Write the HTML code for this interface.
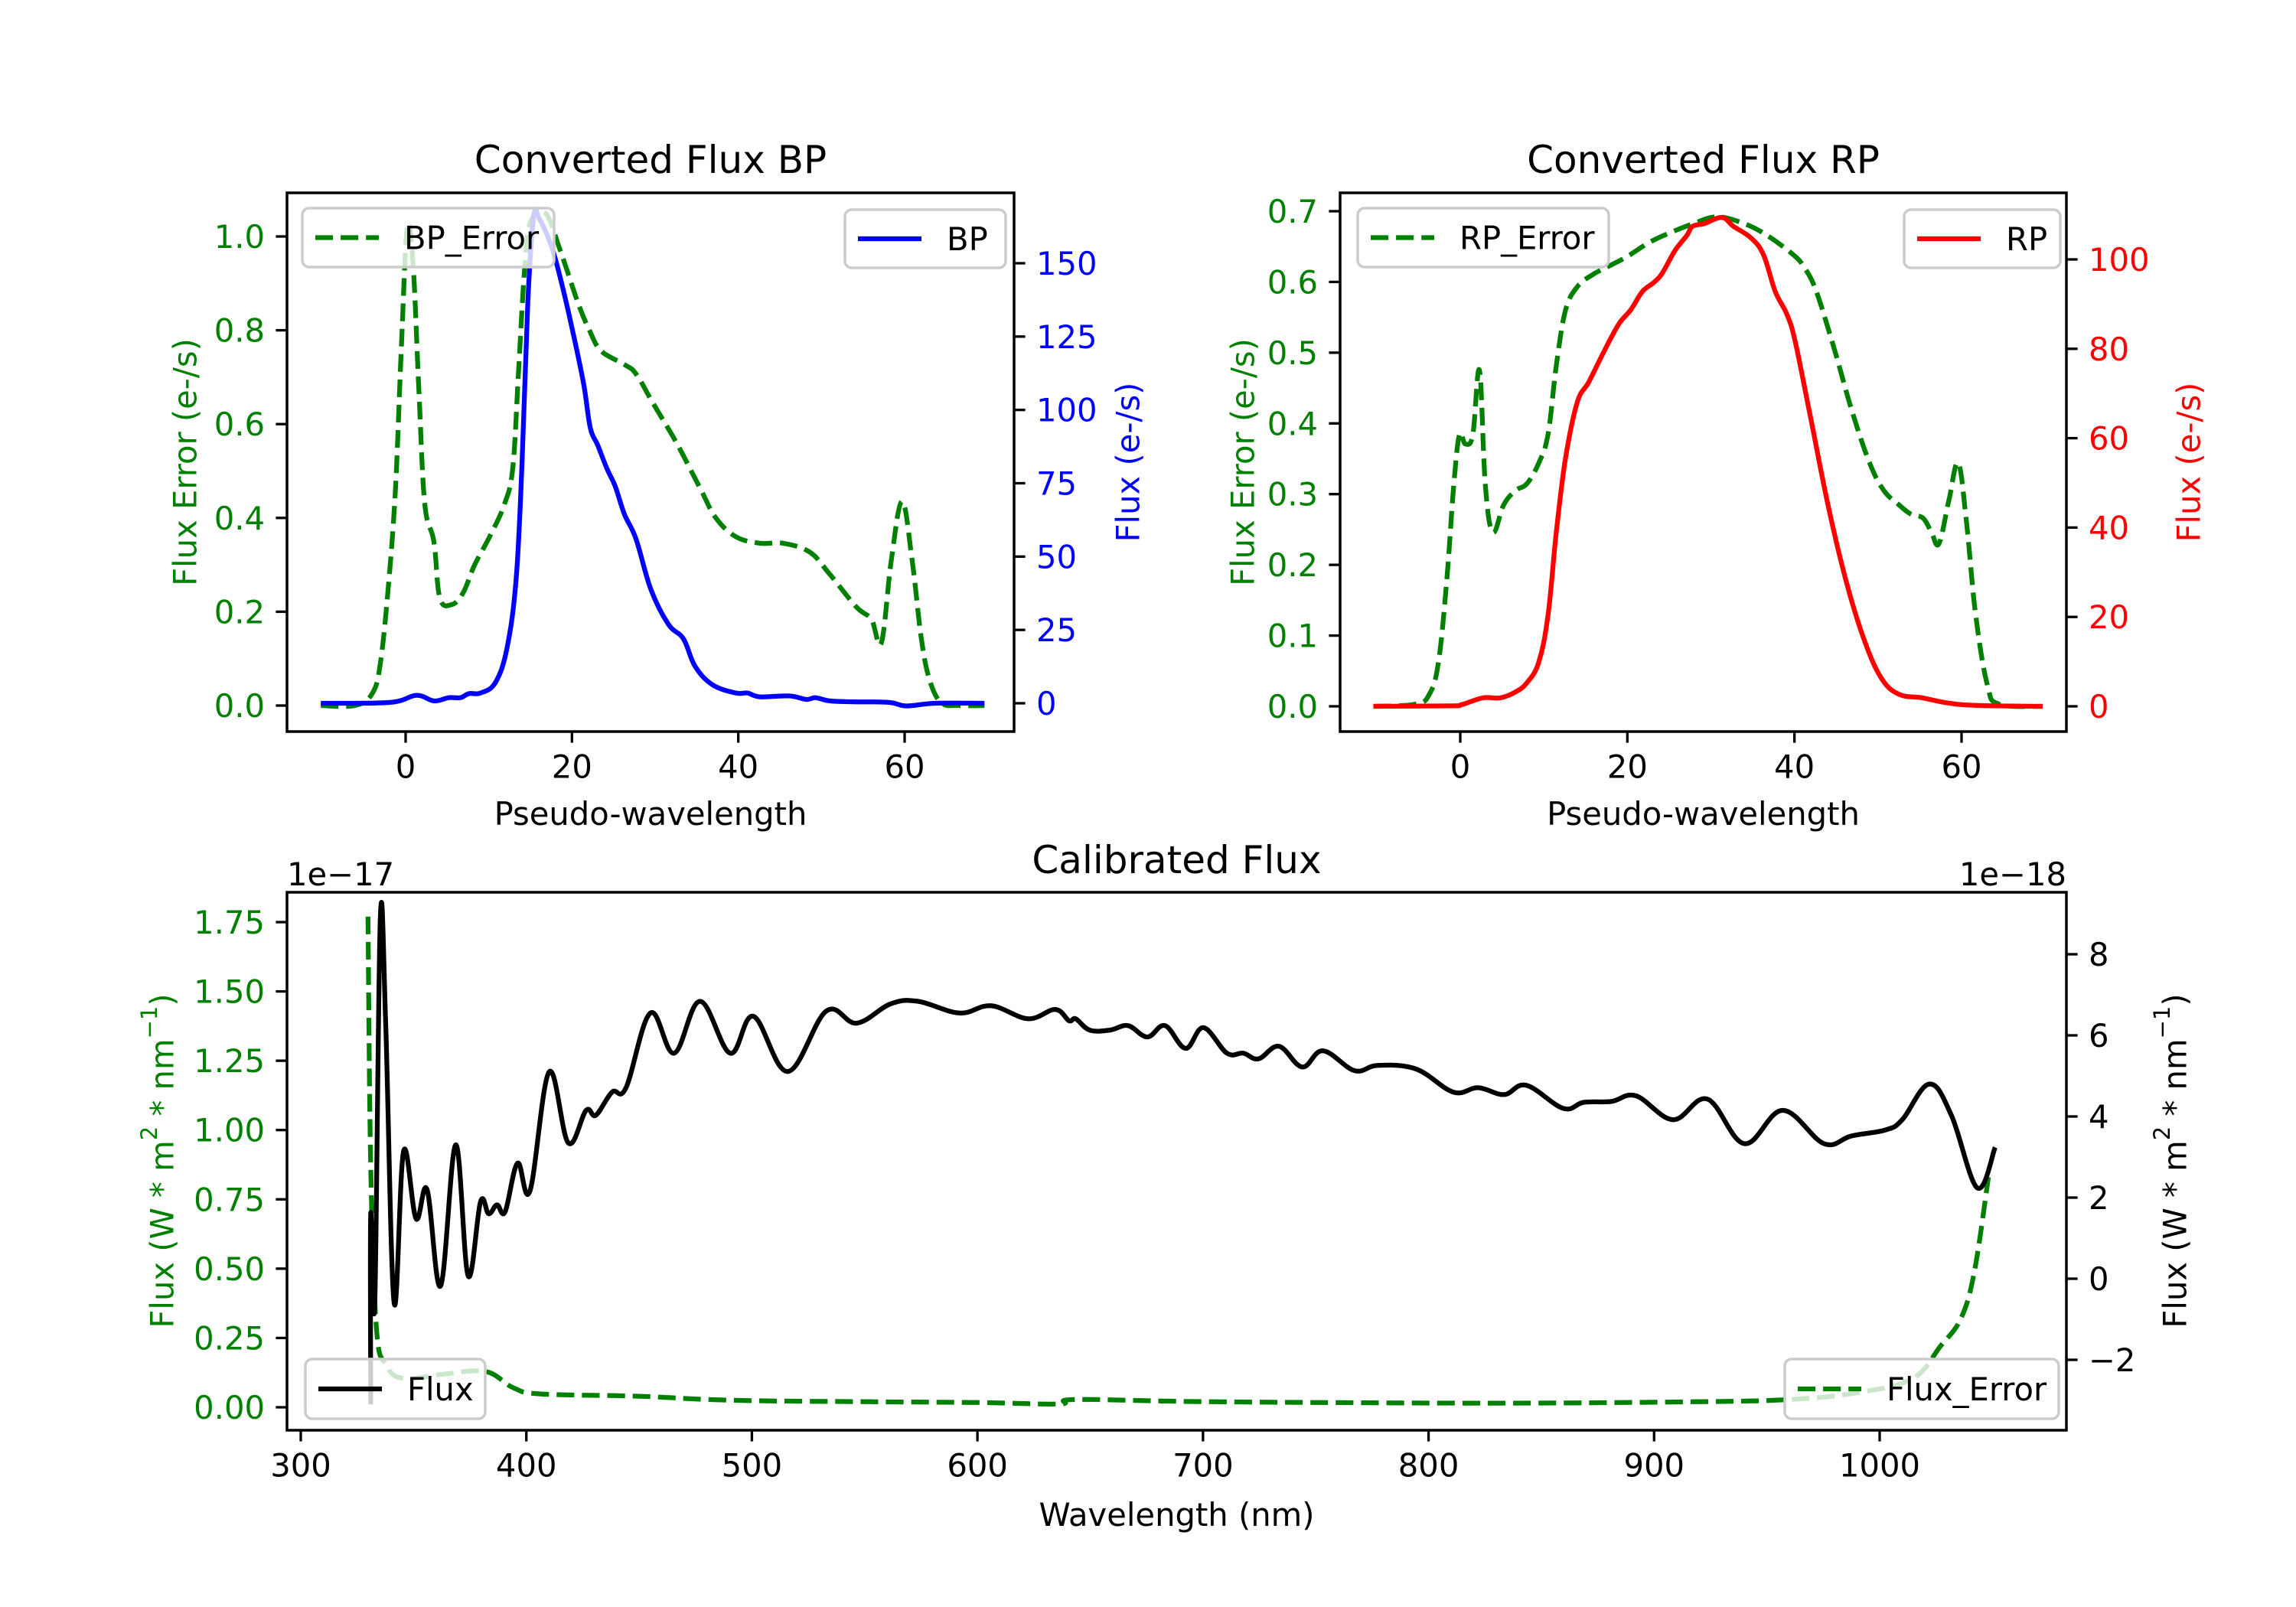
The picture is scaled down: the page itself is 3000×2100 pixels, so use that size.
<!DOCTYPE html>
<html><head><meta charset="utf-8"><style>
html,body{margin:0;padding:0;background:#fff}
svg{display:block;font-family:"DejaVu Sans","Liberation Sans",sans-serif}
</style></head><body>
<svg id="fig" xmlns="http://www.w3.org/2000/svg" width="3000" height="2100" viewBox="0 0 3000 2100">
<rect width="3000" height="2100" fill="#fff"/>
</svg>
<script>
// ---- BP panel data ----
const bpX = [-10.2,-1.9,1.3,3.4,5.2,6.6,7.6,9.0,10.8,12.2,13.3,14.0,14.7,15.4,16.1,17.5,18.6,20,21.4,22.2,23.1,24.2,25.2,26.3,27.7,29.5,31.6,33.4,34.8,36.9,39.7,41.1,42.6,46.1,48.2,49.3,51.0,53.8,58.1,60.2,63.7,69.6];
const bpFlux = [0,0.3,2.7,0.8,1.9,1.9,3.3,3.5,7.1,19,42.7,82,137,166,165,156,145,128,109,94,88,80,74,64.5,56,38.7,26.9,22,12.6,6.3,3.5,3.5,2.2,2.5,1.3,1.9,0.8,0.5,0.3,-0.9,0,0];
const bpErrX = [-10.2,-6.1,-4.0,-3.0,-2.0,-1.2,-0.5,0.2,0.9,1.6,2.3,3.4,4.1,5.5,6.9,8.3,10.1,11.9,12.9,13.6,14.3,15.0,16.8,18.6,20.7,22.1,23.5,26.3,27.7,29.8,32.6,35.5,37.3,39.7,42.6,45.4,48.6,51.0,54.2,56.0,57.2,58.4,59.7,60.9,62.0,63.0,64.4,66.5,69.6];
const bpErr = [0,0,0.026,0.095,0.27,0.47,0.77,1.02,0.94,0.67,0.43,0.35,0.23,0.215,0.24,0.30,0.36,0.43,0.51,0.72,0.93,1.03,1.05,0.97,0.86,0.80,0.756,0.727,0.707,0.643,0.559,0.46,0.40,0.36,0.346,0.346,0.327,0.28,0.21,0.184,0.134,0.31,0.435,0.31,0.144,0.055,0.006,0,0];
const bpLeftTicks = [0.0,0.2,0.4,0.6,0.8,1.0];
const bpRightTicks = [0,25,50,75,100,125,150];
const pseudoTicks = [0,20,40,60];
// ---- RP panel data ----
const rpX = [-10.4,-1.2,0.2,2.7,4.8,6.6,8.0,9.4,10.5,11.5,12.6,14.0,15.4,17.2,19.0,20.4,21.8,23.2,24.2,25.7,27.1,27.8,29.2,31.3,32.7,34.8,36.3,37.7,39.1,40.1,41.9,44.0,46.1,48.3,50.4,52.5,55.3,58.2,61.7,69.7];
const rpFlux = [0,0.1,0.4,1.9,1.9,3.2,5.3,9.9,20.3,39,55.5,68,72.6,79.4,85.6,88.7,92.8,94.9,97,102,105.3,107.4,108,109.4,107.4,104.8,101,92.8,87.7,81.5,64.9,45.2,28.6,15.1,6.3,2.7,1.9,0.8,0.2,0];
const rpErrX = [-10.4,-5.4,-3.7,-2.6,-1.6,-0.8,-0.1,0.6,1.5,2.3,3.0,3.9,5.2,6.6,8.0,9.4,10.5,11.5,12.6,14.0,15.8,17.9,20.0,22.5,25.0,27.8,30.6,33.4,36.3,39.8,41.2,42.6,44.7,46.9,49.0,50.7,52.5,53.9,55.4,56.4,57.3,58.5,59.6,60.6,61.7,63.1,64.5,69.7];
const rpErr = [0,0.003,0.017,0.063,0.18,0.31,0.384,0.371,0.384,0.475,0.312,0.246,0.285,0.305,0.315,0.344,0.384,0.482,0.56,0.593,0.61,0.623,0.636,0.655,0.669,0.682,0.692,0.685,0.669,0.639,0.62,0.587,0.508,0.417,0.344,0.305,0.285,0.272,0.266,0.246,0.23,0.292,0.344,0.259,0.128,0.03,0.003,0];
const rpLeftTicks = [0.0,0.1,0.2,0.3,0.4,0.5,0.6,0.7];
const rpRightTicks = [0,20,40,60,80,100];
// ---- Calibrated panel data ----
const wlX = [331,331,332.8,335.3,337.7,341.4,345.6,351.1,356,362,368.7,374.2,379.7,383.3,387,390.6,396.1,401.6,410.1,418.6,426.5,430.8,438,444.2,455,465.5,477,490.4,500.7,515.9,533,546.4,561.6,573.7,592,606,622.4,634.5,640.6,643.6,649.7,658.8,666.8,675.3,683.2,692.3,700.2,710.6,717.9,724.6,733.7,744,753.2,767.2,777.5,794.5,811,822,833.5,843.3,859.7,868.8,881,892,908.4,923.6,940,957,975.3,987.5,1002.7,1010,1022,1031.8,1043.3,1051.2];
const calFlux = [-3.1,1.6,-0.6,8.93,6.2,-0.6,3.15,1.48,2.2,-0.18,3.3,0.07,1.9,1.6,1.82,1.65,2.85,2.16,5.1,3.35,4.15,4.03,4.6,4.71,6.55,5.56,6.84,5.56,6.47,5.11,6.6,6.3,6.78,6.84,6.55,6.73,6.41,6.64,6.36,6.41,6.13,6.13,6.24,5.96,6.24,5.68,6.19,5.56,5.56,5.42,5.73,5.22,5.62,5.13,5.26,5.17,4.6,4.71,4.54,4.77,4.2,4.35,4.37,4.51,3.92,4.43,3.33,4.15,3.33,3.52,3.67,3.92,4.8,4.03,2.24,3.24];
const errWlX = [329.8,331,333.5,337.7,345.6,363.9,382,394.3,406.4,449,491.6,552.4,601,636.4,643.7,704.5,826,917.6,960,990.4,1014.7,1026.9,1036,1042,1048.2];
const calErr = [1.77,0.87,0.29,0.154,0.104,0.12,0.129,0.07,0.048,0.04,0.025,0.02,0.017,0.012,0.028,0.02,0.015,0.02,0.028,0.053,0.104,0.22,0.32,0.49,0.83];
const calLeftTicks = [0,0.25,0.5,0.75,1.0,1.25,1.5,1.75];
const calRightTicks = [-2,0,2,4,6,8];
const wlTicks = [300,400,500,600,700,800,900,1000];

const NS="http://www.w3.org/2000/svg";
const svg=document.getElementById('fig');
function mk(tag,attrs,parent){const e=document.createElementNS(NS,tag);for(const k in attrs)e.setAttribute(k,attrs[k]);(parent||svg).appendChild(e);return e;}
function lin(d0,d1,p0,p1){return v=>p0+(v-d0)*(p1-p0)/(d1-d0);}
const FS=41.7, LW=6.25, DASH="23.1,10";

function line(xs,ys,sx,sy,color,dashed,name){
  const P=xs.map((x,i)=>[sx(x),sy(ys[i])]);
  let d="M"+P[0][0].toFixed(1)+","+P[0][1].toFixed(1);
  const k=0.18;
  for(let i=0;i<P.length-1;i++){
    const p0=P[Math.max(0,i-1)],p1=P[i],p2=P[i+1],p3=P[Math.min(P.length-1,i+2)];
    const c1=[p1[0]+(p2[0]-p0[0])*k,p1[1]+(p2[1]-p0[1])*k];
    const c2=[p2[0]-(p3[0]-p1[0])*k,p2[1]-(p3[1]-p1[1])*k];
    d+="C"+c1[0].toFixed(1)+","+c1[1].toFixed(1)+" "+c2[0].toFixed(1)+","+c2[1].toFixed(1)+" "+p2[0].toFixed(1)+","+p2[1].toFixed(1);
  }
  const p=mk('path',{d:d,fill:'none',stroke:color,'stroke-width':LW,'stroke-linejoin':'round'});
  if(dashed)p.setAttribute('stroke-dasharray',DASH);
  
  
}
function txt(x,y,s,opts,name){
  const t=mk('text',Object.assign({x:x,y:y,'font-size':FS,fill:'#000'},opts||{}));
  t.textContent=s;
  
  
  return t;
}
function frame(L,T,R,B,name){
  const r=mk('rect',{x:L,y:T,width:R-L,height:B-T,fill:'none',stroke:'#000','stroke-width':3.5});
  
  
}
function xticks(vals,sx,B,name){
  vals.forEach(v=>{const x=sx(v);mk('line',{x1:x,x2:x,y1:B,y2:B+14.6,stroke:'#000','stroke-width':3.3});
    txt(x,B+29+FS*0.76,String(v),{'text-anchor':'middle'},name);});
}
function yticks(vals,sy,X,side,color,dec,name){
  vals.forEach(v=>{const y=sy(v);const x2=side<0?X-14.6:X+14.6;
    mk('line',{x1:X,x2:x2,y1:y,y2:y,stroke:'#000','stroke-width':3.3});
    const s=v.toFixed(dec).replace('-','\u2212');
    txt(side<0?X-29:X+29,y+FS*0.36,s,{'text-anchor':side<0?'end':'start',fill:color},name);});
}
function ylabel(x,y,s,color,name){
  return txt(x,y,s,{'text-anchor':'middle',fill:color,transform:`rotate(-90 ${x} ${y})`,'dominant-baseline':'central'},name);
}
function legend(x0,y0,x1,y1,label,color,dashed,name){
  const g=mk('g',{});
  
  
  mk('rect',{x:x0,y:y0,width:x1-x0,height:y1-y0,rx:9,fill:'#fff','fill-opacity':0.8,stroke:'#cccccc','stroke-width':3.5},g);
  const cy=(y0+y1)/2;
  const l=mk('line',{x1:x0+17,x2:x0+100,y1:cy,y2:cy,stroke:color,'stroke-width':LW},g);
  if(dashed)l.setAttribute('stroke-dasharray',DASH);
  const t=mk('text',{x:x0+133,y:cy+FS*0.36,'font-size':FS,fill:'#000'},g);t.textContent=label;
}

// ===== BP panel =====
(function(){
  const L=375,R=1325,T=252,B=956;
  const sx=lin(0,60,530,1182), syL=lin(0,1,922,309), syR=lin(0,150,919,344);
  line(bpErrX,bpErr,sx,syL,'#008000',true,'bp-error-line');
  line(bpX,bpFlux,sx,syR,'#0000ff',false,'bp-flux-line');
  frame(L,T,R,B,'bp-axes-frame');
  xticks(pseudoTicks,sx,B,'bp-x-tick');
  yticks(bpLeftTicks,syL,L,-1,'#008000',1,'bp-left-tick');
  yticks(bpRightTicks,syR,R,1,'#0000ff',0,'bp-right-tick');
  txt((L+R)/2,226,'Converted Flux BP',{'text-anchor':'middle','font-size':50},'bp-title');
  txt((L+R)/2,1078,'Pseudo-wavelength',{'text-anchor':'middle'},'bp-x-axis-title');
  ylabel(242,604,'Flux Error (e-/s)','#008000','bp-left-axis-title');
  ylabel(1474,604,'Flux (e-/s)','#0000ff','bp-right-axis-title');
  legend(395,272,724,349,'BP_Error','#008000',true,'bp-error-legend');
  legend(1104,274,1314,350,'BP','#0000ff',false,'bp-legend');
})();

// ===== RP panel =====
(function(){
  const L=1751,R=2700,T=252,B=956;
  const sx=lin(0,60,1908,2563), syL=lin(0,0.7,923,276), syR=lin(0,100,923,339);
  line(rpErrX,rpErr,sx,syL,'#008000',true,'rp-error-line');
  line(rpX,rpFlux,sx,syR,'#ff0000',false,'rp-flux-line');
  frame(L,T,R,B,'rp-axes-frame');
  xticks(pseudoTicks,sx,B,'rp-x-tick');
  yticks(rpLeftTicks,syL,L,-1,'#008000',1,'rp-left-tick');
  yticks(rpRightTicks,syR,R,1,'#ff0000',0,'rp-right-tick');
  txt((L+R)/2,226,'Converted Flux RP',{'text-anchor':'middle','font-size':50},'rp-title');
  txt((L+R)/2,1078,'Pseudo-wavelength',{'text-anchor':'middle'},'rp-x-axis-title');
  ylabel(1624,604,'Flux Error (e-/s)','#008000','rp-left-axis-title');
  ylabel(2860,604,'Flux (e-/s)','#ff0000','rp-right-axis-title');
  legend(1774,272,2102,349,'RP_Error','#008000',true,'rp-error-legend');
  legend(2488,274,2692,350,'RP','#ff0000',false,'rp-legend');
})();

// ===== Calibrated panel =====
(function(){
  const L=375,R=2700,T=1166,B=1869;
  const sx=lin(300,1000,393,2456), syL=lin(0,1.75,1839,1205), syR=lin(0,8,1671,1247);
  line(errWlX,calErr,sx,syL,'#008000',true,'flux-error-line');
  line(wlX,calFlux,sx,syR,'#000000',false,'calibrated-flux-line');
  frame(L,T,R,B,'calibrated-axes-frame');
  xticks(wlTicks,sx,B,'wavelength-tick');
  yticks(calLeftTicks,syL,L,-1,'#008000',2,'calibrated-left-tick');
  yticks(calRightTicks,syR,R,1,'#000',0,'calibrated-right-tick');
  txt((L+R)/2,1141,'Calibrated Flux',{'text-anchor':'middle','font-size':50},'calibrated-title');
  txt(L,1157,'1e\u221217',{},'left-offset-label');
  txt(R,1157,'1e\u221218',{'text-anchor':'end'},'right-offset-label');
  txt((L+R)/2,1994,'Wavelength (nm)',{'text-anchor':'middle'},'wavelength-axis-title');
  const a=ylabel(212,1517,'','#008000','calibrated-left-axis-title');
  a.innerHTML='Flux (W * m<tspan baseline-shift="super" font-size="29">2</tspan> * nm<tspan baseline-shift="super" font-size="29">\u22121</tspan>)';
  const b=ylabel(2842,1517,'','#000','calibrated-right-axis-title');
  b.innerHTML='Flux (W * m<tspan baseline-shift="super" font-size="29">2</tspan> * nm<tspan baseline-shift="super" font-size="29">\u22121</tspan>)';
  legend(399,1776,634,1854,'Flux','#000',false,'flux-legend');
  legend(2332,1776,2690,1854,'Flux_Error','#008000',true,'flux-error-legend');
})();
</script>
</body></html>
